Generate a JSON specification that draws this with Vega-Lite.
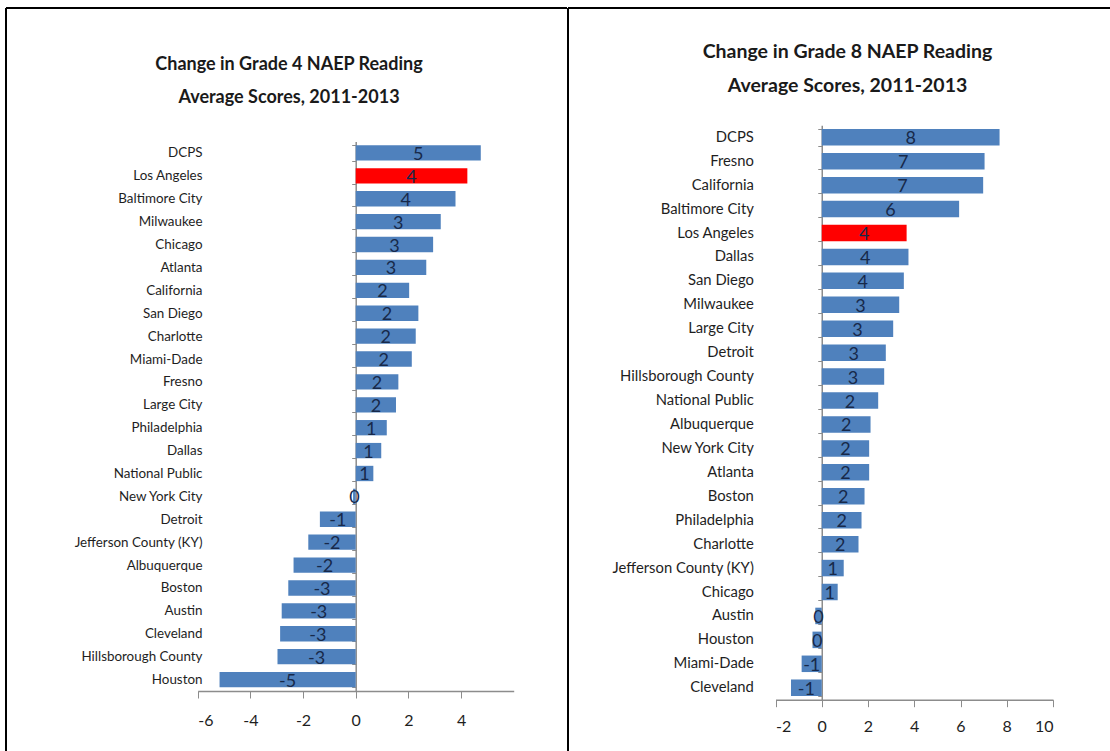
{
  "$schema": "https://vega.github.io/schema/vega-lite/v6.json",
  "padding": {"left": 5, "top": -1, "right": 0, "bottom": 0},
  "background": "white",
  "spacing": -2,
  "config": {
    "font": "Lato",
    "axis": {"labelFont": "Lato", "grid": false, "minExtent": 0, "maxExtent": 0, "title": null}
  },
  "datasets": {
    "g4": [
      {"district": "DCPS", "change": 4.75, "label": 5},
      {"district": "Los Angeles", "change": 4.24, "label": 4},
      {"district": "Baltimore City", "change": 3.79, "label": 4},
      {"district": "Milwaukee", "change": 3.23, "label": 3},
      {"district": "Chicago", "change": 2.94, "label": 3},
      {"district": "Atlanta", "change": 2.68, "label": 3},
      {"district": "California", "change": 2.03, "label": 2},
      {"district": "San Diego", "change": 2.38, "label": 2},
      {"district": "Charlotte", "change": 2.28, "label": 2},
      {"district": "Miami-Dade", "change": 2.13, "label": 2},
      {"district": "Fresno", "change": 1.62, "label": 2},
      {"district": "Large City", "change": 1.53, "label": 2},
      {"district": "Philadelphia", "change": 1.18, "label": 1},
      {"district": "Dallas", "change": 0.97, "label": 1},
      {"district": "National Public", "change": 0.67, "label": 1},
      {"district": "New York City", "change": -0.1, "label": 0},
      {"district": "Detroit", "change": -1.36, "label": -1},
      {"district": "Jefferson County (KY)", "change": -1.8, "label": -2},
      {"district": "Albuquerque", "change": -2.36, "label": -2},
      {"district": "Boston", "change": -2.56, "label": -3},
      {"district": "Austin", "change": -2.81, "label": -3},
      {"district": "Cleveland", "change": -2.87, "label": -3},
      {"district": "Hillsborough County", "change": -2.97, "label": -3},
      {"district": "Houston", "change": -5.17, "label": -5}
    ],
    "g8": [
      {"district": "DCPS", "change": 7.69, "label": 8},
      {"district": "Fresno", "change": 7.04, "label": 7},
      {"district": "California", "change": 6.98, "label": 7},
      {"district": "Baltimore City", "change": 5.94, "label": 6},
      {"district": "Los Angeles", "change": 3.67, "label": 4},
      {"district": "Dallas", "change": 3.75, "label": 4},
      {"district": "San Diego", "change": 3.55, "label": 4},
      {"district": "Milwaukee", "change": 3.35, "label": 3},
      {"district": "Large City", "change": 3.09, "label": 3},
      {"district": "Detroit", "change": 2.77, "label": 3},
      {"district": "Hillsborough County", "change": 2.7, "label": 3},
      {"district": "National Public", "change": 2.44, "label": 2},
      {"district": "Albuquerque", "change": 2.11, "label": 2},
      {"district": "New York City", "change": 2.05, "label": 2},
      {"district": "Atlanta", "change": 2.05, "label": 2},
      {"district": "Boston", "change": 1.85, "label": 2},
      {"district": "Philadelphia", "change": 1.72, "label": 2},
      {"district": "Charlotte", "change": 1.59, "label": 2},
      {"district": "Jefferson County (KY)", "change": 0.95, "label": 1},
      {"district": "Chicago", "change": 0.69, "label": 1},
      {"district": "Austin", "change": -0.28, "label": 0},
      {"district": "Houston", "change": -0.4, "label": 0},
      {"district": "Miami-Dade", "change": -0.87, "label": -1},
      {"district": "Cleveland", "change": -1.33, "label": -1}
    ]
  },
  "hconcat": [
    {
      "width": 561,
      "height": 743,
      "view": {"stroke": "black", "strokeWidth": 2, "strokeDash": [561, 1304, 743, 0]},
      "title": {
        "text": ["Change in Grade 4 NAEP Reading", "Average Scores, 2011-2013"],
        "offset": -106, "dx": 2.5, "anchor": "middle", "frame": "group",
        "font": "Lato", "fontSize": 18, "fontWeight": "bold", "lineHeight": 33, "color": "#1a1a1a"
      },
      "data": {"name": "g4"},
      "encoding": {
        "y": {
          "field": "district", "type": "nominal", "sort": null,
          "scale": {"range": [133.5, 683], "paddingInner": 0.33, "paddingOuter": 0.165},
          "axis": {
            "offset": -349.7, "domain": true, "domainColor": "#8c8c8c", "domainWidth": 1.5,
            "ticks": true, "tickBand": "extent", "tickSize": 4, "tickColor": "#8c8c8c",
            "labelPadding": 149.7, "labelFontSize": 13.4, "labelColor": "#1e1e1e"
          }
        }
      },
      "layer": [
        {
          "mark": {"type": "bar"},
          "encoding": {
            "x": {
              "field": "change", "type": "quantitative",
              "scale": {"domain": [-6, 6], "range": [191.7, 507.7], "nice": false, "zero": false},
              "axis": {
                "orient": "bottom", "offset": -60, "values": [-6, -4, -2, 0, 2, 4],
                "domain": true, "domainColor": "#8c8c8c", "domainWidth": 1.5,
                "ticks": true, "tickSize": 7, "tickColor": "#8c8c8c",
                "labelFontSize": 16, "labelPadding": 14, "labelColor": "#1e1e1e",
                "labelExpr": "'' + datum.value"
              }
            },
            "color": {
              "condition": {"test": "datum.district === 'Los Angeles'", "value": "#FF0000"},
              "value": "#4F81BD"
            }
          }
        },
        {
          "mark": {"type": "text", "fontSize": 18, "color": "#17294A", "dy": 2},
          "encoding": {
            "x": {"field": "change", "type": "quantitative", "stack": "zero", "bandPosition": 0.5},
            "text": {"field": "label", "type": "nominal"}
          }
        }
      ]
    },
    {
      "width": 542,
      "height": 743,
      "view": {"stroke": "black", "strokeWidth": 2, "strokeDash": [542, 1285, 743, 0]},
      "title": {
        "text": ["Change in Grade 8 NAEP Reading", "Average Scores, 2011-2013"],
        "offset": -96, "dx": 8.5, "anchor": "middle", "frame": "group",
        "font": "Lato", "fontSize": 19.5, "fontWeight": "bold", "lineHeight": 34, "color": "#1a1a1a"
      },
      "data": {"name": "g8"},
      "encoding": {
        "y": {
          "field": "district", "type": "nominal", "sort": null,
          "scale": {"range": [117.3, 691.7], "paddingInner": 0.31, "paddingOuter": 0.155},
          "axis": {
            "offset": -253.75, "domain": true, "domainColor": "#8c8c8c", "domainWidth": 1.5,
            "ticks": true, "tickBand": "extent", "tickSize": 4, "tickColor": "#8c8c8c",
            "labelPadding": 64.4, "labelFontSize": 14.8, "labelColor": "#1e1e1e"
          }
        }
      },
      "layer": [
        {
          "mark": {"type": "bar"},
          "encoding": {
            "x": {
              "field": "change", "type": "quantitative",
              "scale": {"domain": [-2, 10], "range": [207.5, 485], "nice": false, "zero": false},
              "axis": {
                "orient": "bottom", "offset": -51.3, "values": [-2, 0, 2, 4, 6, 8, 10],
                "domain": true, "domainColor": "#8c8c8c", "domainWidth": 1.5,
                "ticks": true, "tickSize": 7, "tickColor": "#8c8c8c",
                "labelFontSize": 16, "labelPadding": 12, "labelColor": "#1e1e1e",
                "labelExpr": "'' + datum.value"
              }
            },
            "color": {
              "condition": {"test": "datum.district === 'Los Angeles'", "value": "#FF0000"},
              "value": "#4F81BD"
            }
          }
        },
        {
          "mark": {"type": "text", "fontSize": 18, "color": "#17294A", "dy": 2},
          "encoding": {
            "x": {"field": "change", "type": "quantitative", "stack": "zero", "bandPosition": 0.5},
            "text": {"field": "label", "type": "nominal"}
          }
        }
      ]
    }
  ]
}
